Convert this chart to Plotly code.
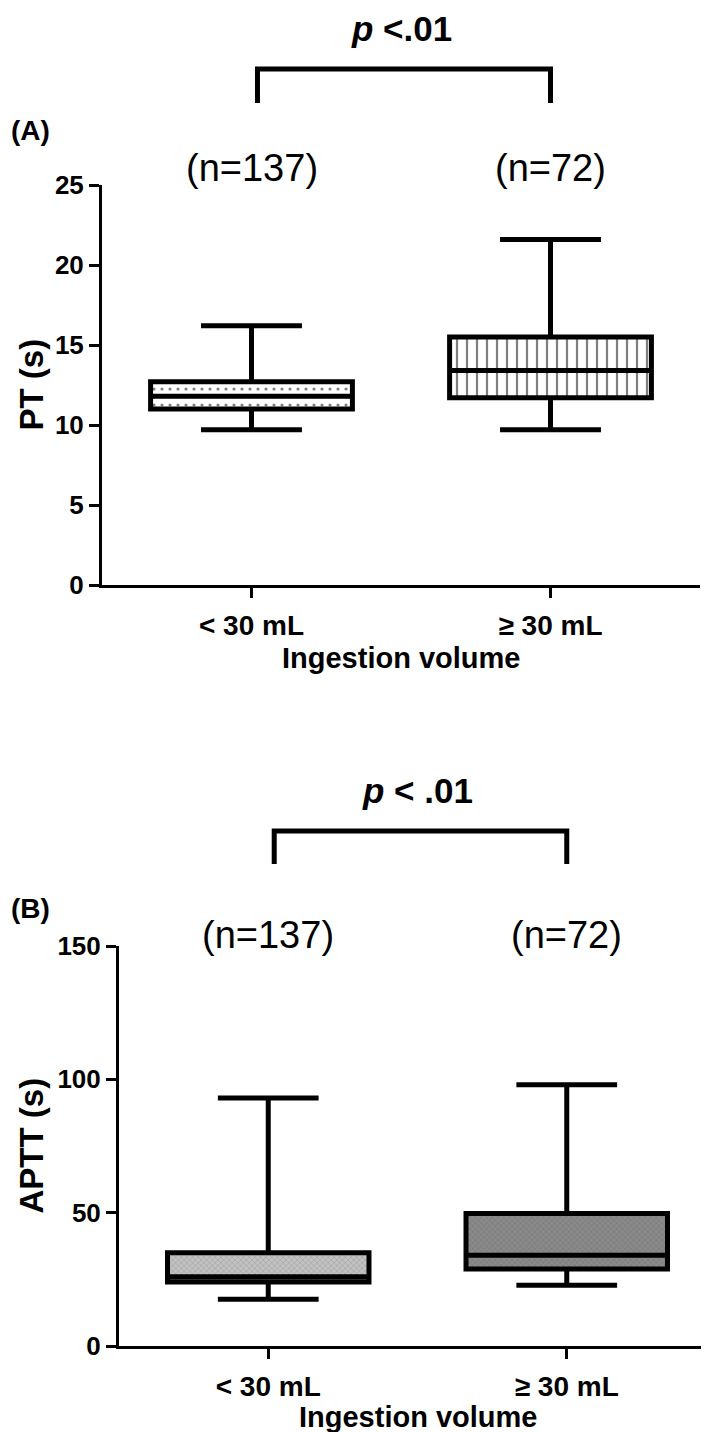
import plotly.graph_objects as go

# ---------------- data ----------------
categories = ["< 30 mL", "≥ 30 mL"]
n_labels = ["(n=137)", "(n=72)"]

pt_low = [9.7, 9.7]
pt_q1 = [11.0, 11.7]
pt_median = [11.8, 13.4]
pt_q3 = [12.7, 15.5]
pt_high = [16.2, 21.6]

aptt_low = [17.5, 22.8]
aptt_q1 = [24.0, 28.9]
aptt_median = [26.0, 34.0]
aptt_q3 = [35.0, 49.7]
aptt_high = [93.0, 98.0]

pt_ticks = [0, 5, 10, 15, 20, 25]
aptt_ticks = [0, 50, 100, 150]

W, H = 709, 1432
FONT = "Arial, Liberation Sans, sans-serif"


def py(pix):
    return 1 - pix / H


fig = go.Figure()

# pattern fills under the boxes (interquartile range)
fig.add_trace(go.Bar(
    x=categories[:1], y=[pt_q3[0] - pt_q1[0]], base=[pt_q1[0]], width=0.675,
    marker=dict(color="white", line=dict(width=0),
                pattern=dict(shape=".", size=8, solidity=0.12, fgcolor="black", bgcolor="white")),
    xaxis="x", yaxis="y", showlegend=False, hoverinfo="skip"))
fig.add_trace(go.Bar(
    x=categories[1:], y=[pt_q3[1] - pt_q1[1]], base=[pt_q1[1]], width=0.675,
    marker=dict(color="white", line=dict(width=0),
                pattern=dict(shape="|", size=10, solidity=0.22, fgcolor="black", bgcolor="white")),
    xaxis="x", yaxis="y", showlegend=False, hoverinfo="skip"))
fig.add_trace(go.Bar(
    x=categories, y=[aptt_q3[i] - aptt_q1[i] for i in range(2)], base=aptt_q1, width=0.675,
    marker=dict(color=["#c2c2c2", "#8a8a8a"], line=dict(width=0),
                pattern=dict(shape="x", size=4, solidity=0.15, fgcolor="#6f6f6f")),
    xaxis="x2", yaxis="y2", showlegend=False, hoverinfo="skip"))

# box plots
fig.add_trace(go.Box(
    x=categories, q1=pt_q1, median=pt_median, q3=pt_q3,
    lowerfence=pt_low, upperfence=pt_high,
    width=0.675, whiskerwidth=0.5, fillcolor="rgba(0,0,0,0)",
    line=dict(color="black", width=5), boxpoints=False,
    xaxis="x", yaxis="y", showlegend=False))
fig.add_trace(go.Box(
    x=categories, q1=aptt_q1, median=aptt_median, q3=aptt_q3,
    lowerfence=aptt_low, upperfence=aptt_high,
    width=0.675, whiskerwidth=0.5, fillcolor="rgba(0,0,0,0)",
    line=dict(color="black", width=5), boxpoints=False,
    xaxis="x2", yaxis="y2", showlegend=False))

axis_common = dict(showline=True, linecolor="black", linewidth=3, ticks="outside",
                   ticklen=10, tickwidth=3, tickcolor="black", showgrid=False,
                   zeroline=False, automargin=False)

X1 = [94 / W, 692 / W]
X2 = [111 / W, 708 / W]
fig.update_layout(
    width=W, height=H, margin=dict(l=0, r=0, t=0, b=0),
    paper_bgcolor="white", plot_bgcolor="white", barmode="overlay",
    font=dict(family=FONT, color="black"),
    xaxis=dict(domain=X1, anchor="y", range=[-0.5, 1.5],
               tickfont=dict(size=28, family=FONT, weight="bold"), ticklabelstandoff=3,
               **axis_common),
    yaxis=dict(domain=[py(577), py(177)], anchor="x", range=[0, 25], tickvals=pt_ticks,
               tickfont=dict(size=26, family=FONT, weight="bold"),
               **axis_common),
    xaxis2=dict(domain=X2, anchor="y2", range=[-0.5, 1.5],
                tickfont=dict(size=28, family=FONT, weight="bold"), ticklabelstandoff=3,
                **axis_common),
    yaxis2=dict(domain=[py(1338), py(938)], anchor="x2", range=[0, 150], tickvals=aptt_ticks,
                tickfont=dict(size=26, family=FONT, weight="bold"),
                **axis_common),
)

annotations = []
shapes = []
panels = [("x", X1, "(A)", "<b><i>p</i> <.01</b>", "PT (s)", 20, 61, 95, 123, 160, 377, 650),
          ("x2", X2, "(B)", "<b><i>p</i> < .01</b>", "APTT (s)", 782, 823, 856, 900, 927, 1138, 1409)]
for (xref, dom, letter, ptxt, ytitle, p_y, br_top, br_bot, let_y, n_y,
     ytitle_y, xtitle_y) in panels:
    annotations.append(dict(text=ptxt, xref=xref, yref="paper", x=0.5, y=py(p_y),
                            showarrow=False, font=dict(size=35), xanchor="center", yanchor="middle"))
    annotations.append(dict(text="<b>" + letter + "</b>", xref="paper", yref="paper", x=1 / W,
                            y=py(let_y), showarrow=False, font=dict(size=28),
                            xanchor="left", yanchor="middle"))
    for i, lab in enumerate(n_labels):
        annotations.append(dict(text=lab, xref=xref, yref="paper", x=categories[i], y=py(n_y),
                                showarrow=False, font=dict(size=38), xanchor="center",
                                yanchor="middle"))
    # axis titles
    annotations.append(dict(text="<b>" + ytitle + "</b>", xref="paper", yref="paper",
                            x=2 / W, y=py(ytitle_y), textangle=-90, showarrow=False,
                            font=dict(size=33), xanchor="left", yanchor="middle"))
    annotations.append(dict(text="<b>Ingestion volume</b>", xref="paper", yref="paper",
                            x=(dom[0] + dom[1]) / 2, y=py(xtitle_y), showarrow=False,
                            font=dict(size=29), xanchor="center", yanchor="middle"))
    # significance bracket between the two categories
    shapes.append(dict(type="path", xref=xref, yref="paper",
                       path=f"M 0.02,{py(br_bot)} L 0.02,{py(br_top)} L 1,{py(br_top)} L 1,{py(br_bot)}",
                       line=dict(color="black", width=5)))

fig.update_layout(annotations=annotations, shapes=shapes)

fig.write_html("out.html")
